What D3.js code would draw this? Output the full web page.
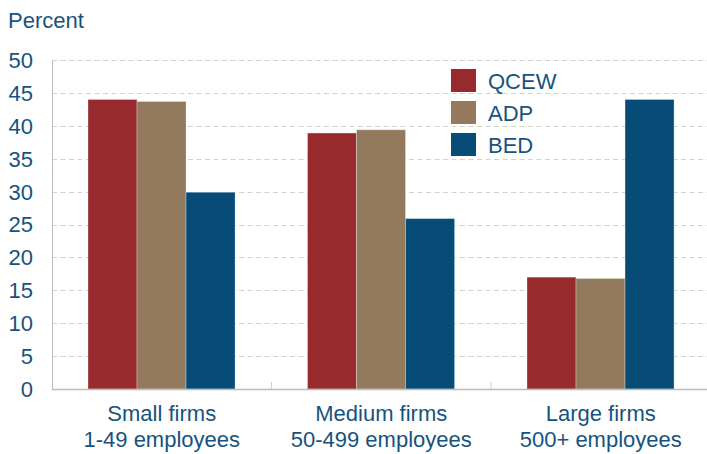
<!DOCTYPE html>
<html>
<head>
<meta charset="utf-8">
<script src="https://cdn.jsdelivr.net/npm/d3@7"></script>
<style>
  html, body { margin: 0; padding: 0; background: #fff; }
  svg { display: block; }
  text { font-family: "Liberation Sans", Arial, sans-serif; }
</style>
</head>
<body>
<svg id="chart" width="707" height="454"></svg>
<script>
const categories = [["Small firms", "1-49 employees"], ["Medium firms", "50-499 employees"], ["Large firms", "500+ employees"]];
const seriesNames = ["QCEW", "ADP", "BED"];
const qcew = [44.0, 38.9, 17.0];
const adp = [43.7, 39.4, 16.8];
const bed = [29.9, 25.9, 44.0];
const yTicks = [0, 5, 10, 15, 20, 25, 30, 35, 40, 45, 50];
const colors = ["#962a2c", "#937a5d", "#064c76"];
const textColor = "#17537e";

const seriesValues = [qcew, adp, bed];
const svg = d3.select("#chart");
const margin = { left: 52, top: 60, bottom: 65 };
const H = 454;
const plotRight = 710.5;

const y = d3.scaleLinear().domain([0, 50]).range([H - margin.bottom, margin.top]);
const x0 = d3.scaleBand().domain(d3.range(categories.length)).range([margin.left, plotRight]).padding(0);
const bw = x0.bandwidth();
const x1 = d3.scaleBand().domain(seriesNames).range([bw * 0.164, bw * 0.834]).padding(0);

// gridlines
svg.append("g").selectAll("line").data(yTicks.filter(d => d > 0)).join("line")
  .attr("x1", margin.left).attr("x2", 707)
  .attr("y1", d => Math.round(y(d)) + 0.5).attr("y2", d => Math.round(y(d)) + 0.5)
  .attr("stroke", "#d3d3cc").attr("stroke-width", 1).attr("stroke-dasharray", "5,3.5");

// y labels
svg.append("g").selectAll("text").data(yTicks).join("text")
  .attr("x", 33).attr("y", d => y(d)).attr("dy", "0.36em")
  .attr("text-anchor", "end").attr("font-size", 22).attr("fill", textColor)
  .text(d => d);

// bars
const groups = svg.append("g").selectAll("g").data(categories).join("g")
  .attr("transform", (d, i) => `translate(${x0(i)},0)`);
groups.selectAll("rect").data((d, i) => seriesNames.map((s, j) => ({ s, j, v: seriesValues[j][i] }))).join("rect")
  .attr("x", d => x1(d.s)).attr("width", x1.bandwidth())
  .attr("y", d => y(d.v)).attr("height", d => y(0) - y(d.v))
  .attr("fill", d => colors[d.j])
  .attr("stroke", "rgba(255,255,255,0.3)").attr("stroke-width", 1);

// axes lines
svg.append("line").attr("x1", margin.left + 0.5).attr("x2", margin.left + 0.5)
  .attr("y1", y(50)).attr("y2", y(0)).attr("stroke", "#bdbdb5").attr("stroke-width", 1);
svg.append("line").attr("x1", margin.left).attr("x2", 707)
  .attr("y1", y(0) + 0.5).attr("y2", y(0) + 0.5).attr("stroke", "#bdbdb5").attr("stroke-width", 1.5);
svg.append("g").selectAll("line").data(d3.range(1, categories.length)).join("line")
  .attr("x1", d => x0(d)).attr("x2", d => x0(d))
  .attr("y1", y(0)).attr("y2", y(0) - 7)
  .attr("stroke", "#d0d0c8").attr("stroke-width", 1);

// category labels
const cl = svg.append("g").selectAll("text").data(categories).join("text")
  .attr("text-anchor", "middle").attr("font-size", 22).attr("fill", textColor)
  .attr("transform", (d, i) => `translate(${x0(i) + bw / 2},421)`);
cl.selectAll("tspan").data(d => d).join("tspan")
  .attr("x", 0).attr("y", (d, k) => k * 26).text(d => d);

// Percent title
svg.append("text").attr("x", 8).attr("y", 28).attr("font-size", 22).attr("fill", textColor).text("Percent");

// legend
const lg = svg.append("g").selectAll("g").data(seriesNames).join("g")
  .attr("transform", (d, i) => `translate(451,${69 + i * 32})`);
lg.append("rect").attr("width", 25).attr("height", 23).attr("fill", (d, i) => colors[i]);
lg.append("text").attr("x", 37).attr("y", 19.5).attr("font-size", 22).attr("fill", textColor).text(d => d);
</script>
</body>
</html>
